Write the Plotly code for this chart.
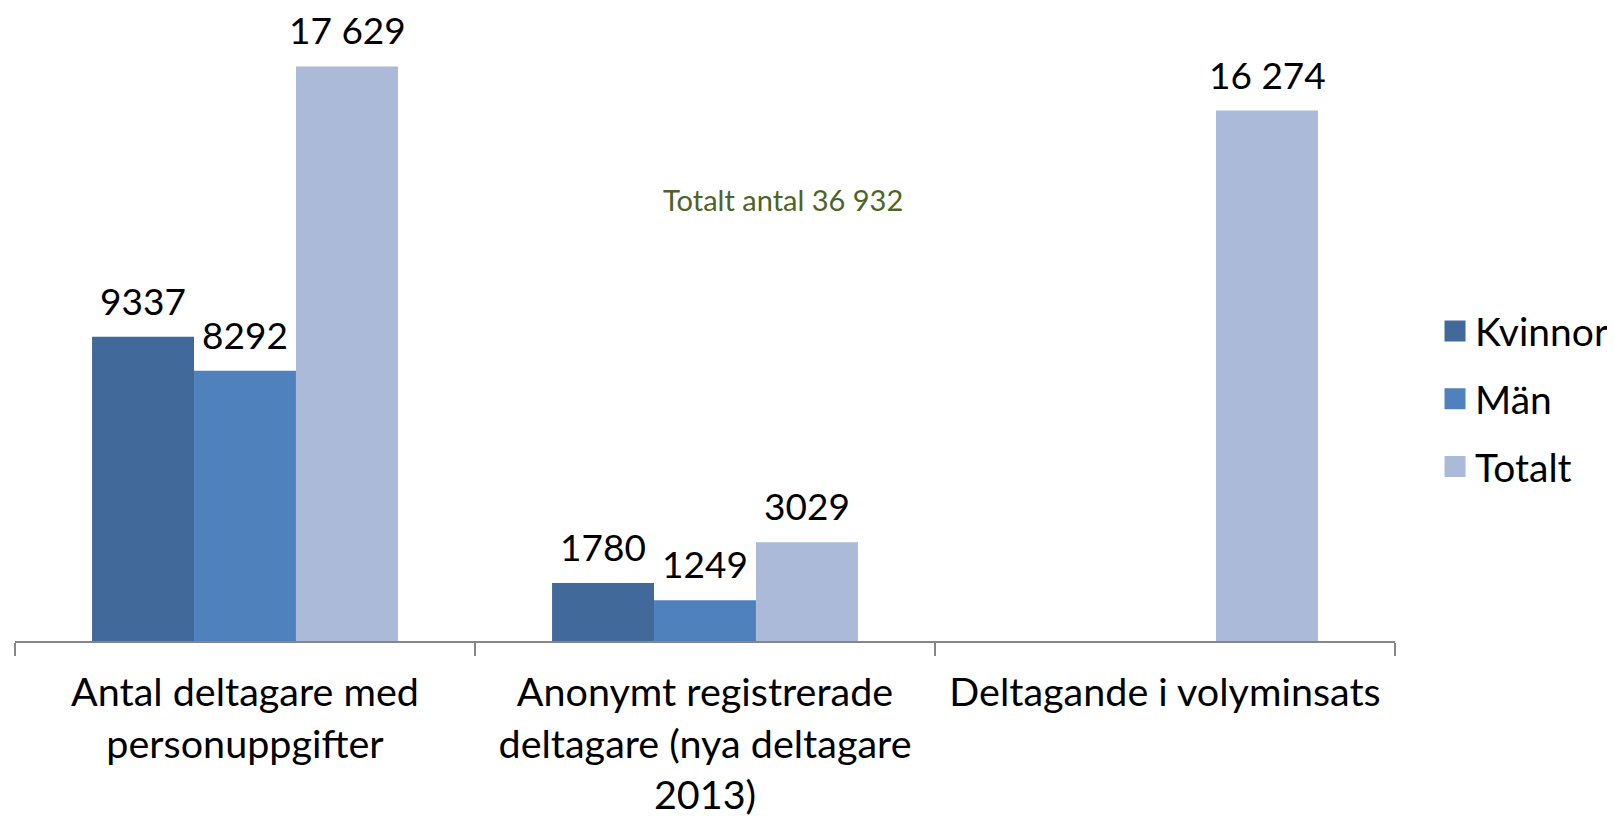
import plotly.graph_objects as go

categories = [
    "Antal deltagare med<br>personuppgifter",
    "Anonymt registrerade<br>deltagare (nya deltagare<br>2013)",
    "Deltagande i volyminsats",
]
series_names = ["Kvinnor", "Män", "Totalt"]
kvinnor = [9337, 1780, None]
man = [8292, 1249, None]
totalt = [17629, 3029, 16274]
total_note = "Totalt antal 36 932"

colors = ["#41699A", "#4F81BD", "#AABAD8"]
FONT = "Lato"
FS_TICK = 39.5
FS_LEG = 39
FS_LABEL = 37
BAR_PX = 102  # bar width in pixels (style)


def fmt(v):
    if v >= 10000:
        return f"{v:,}".replace(",", " ")
    return str(v)


fig = go.Figure()
all_series = [kvinnor, man, totalt]
for name, vals, col in zip(series_names, all_series, colors):
    fig.add_trace(go.Bar(
        x=categories, y=vals, name=name, marker_color=col,
        marker_line_width=0, showlegend=False,
    ))
    fig.add_trace(go.Scatter(
        x=[None], y=[None], mode="markers", name=name, legendgroup=name,
        marker=dict(symbol="square", size=16, color=col,
                    line=dict(color=col, width=5)),
    ))

# value labels above bars
for si, vals in enumerate(all_series):
    for cat, v in zip(categories, vals):
        if v is None:
            continue
        fig.add_annotation(
            x=cat, y=v, text=fmt(v), showarrow=False,
            xshift=(si - 1) * BAR_PX, yanchor="bottom", yshift=12,
            font=dict(family=FONT, size=FS_LABEL, color="black"),
        )

fig.add_annotation(
    xref="paper", yref="paper", x=0.5565, y=0.733, text=total_note,
    xanchor="center", yanchor="middle",
    showarrow=False, font=dict(family=FONT, size=29, color="#4F6228"),
)

fig.update_layout(
    width=1607, height=813,
    margin=dict(l=7, r=220, t=30, b=180, autoexpand=False),
    plot_bgcolor="white", paper_bgcolor="white",
    barmode="group", bargap=0.335, bargroupgap=0,
    font=dict(family=FONT, size=FS_TICK, color="black"),
    showlegend=True,
    legend=dict(x=1.029, xanchor="left", y=0.401, yanchor="middle",
                traceorder="grouped", tracegroupgap=14,
                font=dict(family=FONT, size=FS_LEG, color="black")),
    xaxis=dict(showline=True, linecolor="#868686", linewidth=2,
               ticks="outside", tickson="boundaries", ticklen=13,
               tickcolor="#868686", tickwidth=2, ticklabelstandoff=16,
               automargin=False,
               tickfont=dict(family=FONT, size=FS_TICK, color="black")),
    yaxis=dict(range=[0, 18500], visible=False, showgrid=False,
               automargin=False),
)

fig.write_html("out.html")
